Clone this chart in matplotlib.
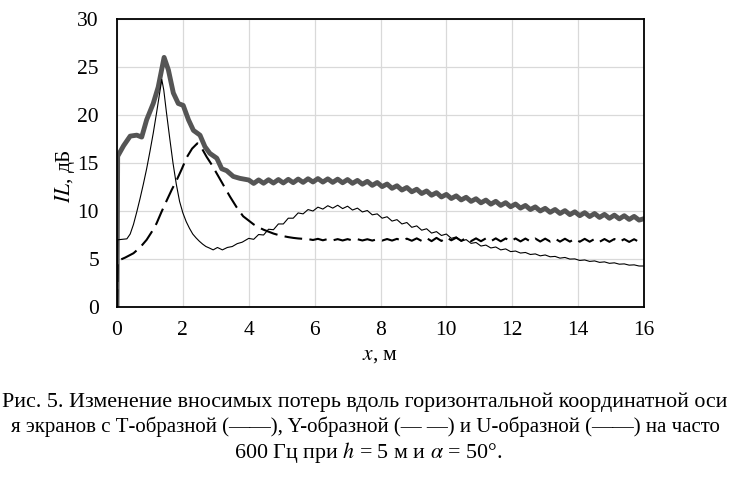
import matplotlib
matplotlib.use("Agg")
import matplotlib.pyplot as plt
import numpy as np

plt.rcParams['font.family'] = ['Liberation Serif', 'DejaVu Serif']
plt.rcParams['mathtext.fontset'] = 'stix'

# --- data ---
# common sampling grid for the tail of every curve (4.0 ... 16.0 m, step 0.15)
x_tail = np.round(4.0 + 0.15 * np.arange(81), 2)

# U-shaped screen (thick grey)
x_u_head = [0, 0.02, 0.2, 0.4, 0.6, 0.75, 0.9, 1.1, 1.25, 1.43, 1.56, 1.71, 1.86,
            2.01, 2.17, 2.32, 2.52, 2.67, 2.82, 3.03, 3.18, 3.33, 3.53, 3.73]
il_u_head = [0, 15.7, 16.8, 17.8, 17.9, 17.7, 19.5, 21.2, 22.9, 26.0, 24.7, 22.3, 21.2,
             21.0, 19.5, 18.4, 17.9, 16.7, 16.0, 15.5, 14.4, 14.2, 13.6, 13.4]
il_u_tail = [13.23, 12.87, 13.24, 12.89, 13.26, 12.91, 13.28, 12.92, 13.3, 12.95,
             13.33, 12.98, 13.36, 13.02, 13.38, 13.01, 13.35, 12.98, 13.32, 12.94,
             13.28, 12.88, 13.19, 12.79, 13.09, 12.67, 12.97, 12.54, 12.81, 12.36,
             12.63, 12.18, 12.45, 12.0, 12.27, 11.82, 12.09, 11.64, 11.91, 11.46,
             11.73, 11.3, 11.58, 11.15, 11.43, 11.0, 11.28, 10.85, 11.14, 10.71,
             11.01, 10.58, 10.87, 10.44, 10.73, 10.3, 10.58, 10.15, 10.43, 10.0,
             10.28, 9.86, 10.16, 9.74, 10.04, 9.62, 9.92, 9.51, 9.83, 9.42,
             9.74, 9.33, 9.65, 9.24, 9.57, 9.18, 9.51, 9.12, 9.44, 9.05,
             9.2]

# T-shaped screen (thin black)
x_t_head = [0, 0.02, 0.3, 0.4, 0.5, 0.6, 0.7, 0.8, 0.9, 1.0, 1.1, 1.2, 1.3, 1.36,
            1.42, 1.5, 1.6, 1.7, 1.8, 1.9, 2.0, 2.1, 2.2, 2.3, 2.4, 2.5, 2.6, 2.7,
            2.8, 2.92, 3.05, 3.2, 3.35, 3.5, 3.65, 3.8]
il_t_head = [0, 7.0, 7.1, 7.6, 8.6, 9.9, 11.3, 12.8, 14.4, 16.2, 18.1, 20.2, 22.4, 23.7,
             22.6, 20.3, 17.6, 15.0, 12.8, 11.0, 9.8, 8.9, 8.2, 7.6, 7.2, 6.85, 6.55, 6.3,
             6.15, 5.95, 6.2, 5.95, 6.2, 6.3, 6.6, 6.75]
il_t_tail = [7.15, 7.05, 7.55, 7.5, 8.1, 8.05, 8.65, 8.65, 9.25, 9.25,
             9.8, 9.7, 10.15, 10.0, 10.4, 10.2, 10.55, 10.3, 10.6, 10.25,
             10.5, 10.1, 10.3, 9.9, 10.05, 9.6, 9.7, 9.25, 9.4, 8.95,
             9.1, 8.65, 8.8, 8.3, 8.45, 8.0, 8.15, 7.7, 7.85, 7.45,
             7.6, 7.15, 7.3, 6.85, 7.02, 6.63, 6.72, 6.35, 6.45, 6.15,
             6.25, 5.95, 6.05, 5.77, 5.83, 5.62, 5.68, 5.47, 5.53, 5.33,
             5.42, 5.23, 5.27, 5.09, 5.16, 4.99, 5.01, 4.85, 4.9, 4.75,
             4.8, 4.65, 4.7, 4.55, 4.6, 4.46, 4.49, 4.36, 4.39, 4.27,
             4.27]

# Y-shaped screen (dashed black)
x_y_head = [0, 0.02, 0.25, 0.5, 0.7, 0.9, 1.05, 1.2, 1.35, 1.51, 1.66, 1.81, 1.97,
            2.12, 2.28, 2.44, 2.58, 2.72, 2.88, 3.03, 3.23, 3.43, 3.63, 3.83]
il_y_head = [0, 4.8, 5.15, 5.6, 6.2, 7.0, 7.8, 8.7, 9.9, 11.1, 12.2, 13.2, 14.4,
             15.6, 16.5, 17.05, 16.5, 15.65, 14.8, 13.9, 12.7, 11.5, 10.4, 9.45]
il_y_tail = [9.0, 8.6, 8.3, 8.05, 7.85, 7.65, 7.5, 7.38, 7.28, 7.2,
             7.14, 7.1, 7.07, 6.98, 7.1, 6.95, 7.08, 6.94, 7.07, 6.93,
             7.07, 6.93, 7.06, 6.93, 7.06, 6.92, 7.06, 6.92, 7.08, 6.92,
             7.1, 6.9, 7.12, 6.9, 7.15, 6.88, 7.18, 6.86, 7.2, 6.88,
             7.25, 6.95, 7.22, 6.9, 7.18, 6.86, 7.15, 6.85, 7.15, 6.85,
             7.15, 6.84, 7.14, 6.84, 7.14, 6.83, 7.13, 6.83, 7.13, 6.82,
             7.12, 6.82, 7.12, 6.81, 7.11, 6.81, 7.1, 6.8, 7.1, 6.8,
             7.09, 6.79, 7.08, 6.79, 7.08, 6.78, 7.07, 6.78, 7.06, 6.78,
             6.9]

x_ticks = [0, 2, 4, 6, 8, 10, 12, 14, 16]
y_ticks = [0, 5, 10, 15, 20, 25, 30]

caption = [
    "Рис. 5. Изменение вносимых потерь вдоль горизонтальной координатной оси",
    "я экранов с Т-образной (——), Y-образной (— —) и U-образной (——) на часто",
    r"600 Гц при $h$ = 5 м и $\alpha$ = 50°.",
]

# --- figure ---
fig = plt.figure(figsize=(7.3, 4.86), dpi=100)
ax = fig.add_axes([117 / 730, 179 / 486, 527 / 730, 288 / 486])

ax.plot(np.concatenate([x_u_head, x_tail]), np.concatenate([il_u_head, il_u_tail]),
        color='#555555', lw=3.5, solid_joinstyle='round', zorder=3)
ax.plot(np.concatenate([x_y_head, x_tail]), np.concatenate([il_y_head, il_y_tail]),
        color='black', lw=1.5, dashes=(8.5, 3.5), zorder=4)
ax.plot(np.concatenate([x_t_head, x_tail]), np.concatenate([il_t_head, il_t_tail]),
        color='black', lw=0.8, zorder=5)

ax.set_xlim(0, 16)
ax.set_ylim(0, 30)
ax.set_xticks(x_ticks)
ax.set_yticks(y_ticks)
ax.grid(True, color='#d9d9d9', lw=0.9)
ax.set_axisbelow(True)
ax.tick_params(length=0, labelsize=15.5)
ax.tick_params(axis='x', pad=10)
ax.tick_params(axis='y', pad=13)
for s in ax.spines.values():
    s.set_linewidth(1.3)
    s.set_color('black')
    s.set_zorder(6)

ax.set_ylabel(r"$IL$, дБ", fontsize=15.5)
ax.yaxis.set_label_coords(-0.076, 0.455)
ax.set_xlabel(r"$x$, м", fontsize=15.5)
ax.xaxis.set_label_coords(0.5, -0.134)

fig.text(0.5, 1 - 402 / 486, caption[0], ha='center', va='center', fontsize=15.8)
fig.text(0.5, 1 - 427 / 486, caption[1], ha='center', va='center', fontsize=15.0)
fig.text(368 / 730, 1 - 452 / 486, caption[2], ha='center', va='center', fontsize=15.8)

fig.savefig("out.png", dpi=100)
